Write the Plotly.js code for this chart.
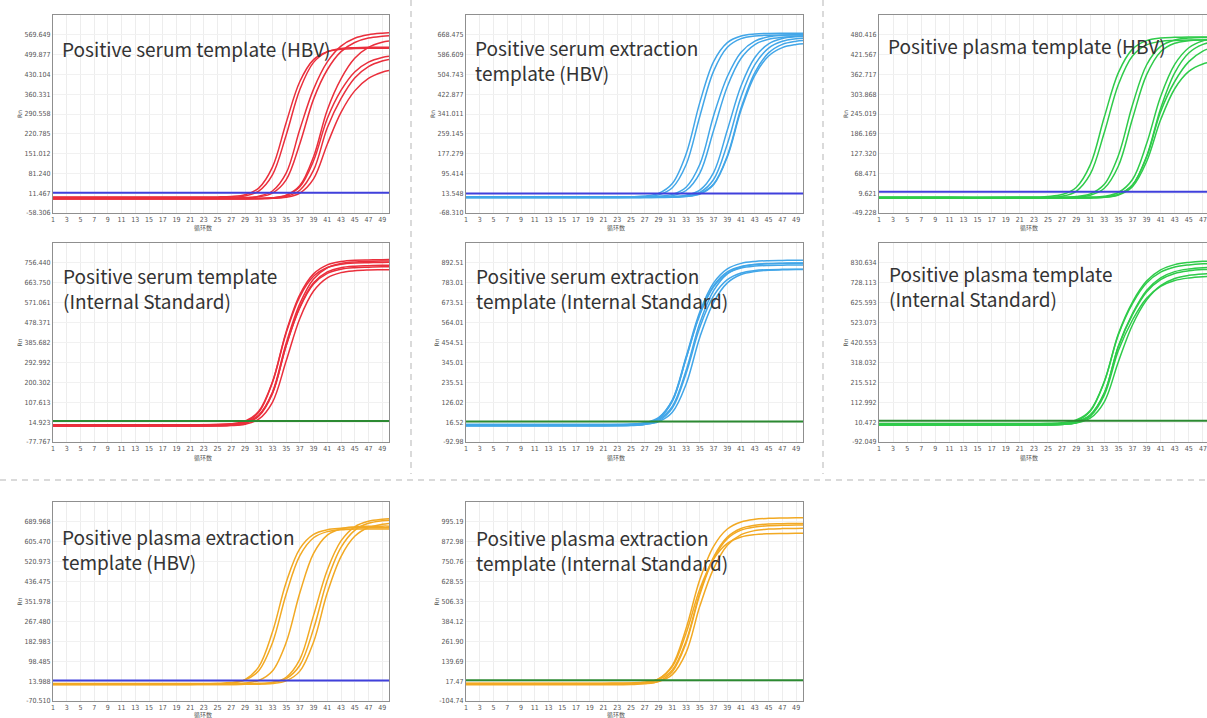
<!DOCTYPE html>
<html><head><meta charset="utf-8">
<script src="https://cdn.plot.ly/plotly-3.0.1.min.js"></script>
<style>html,body{margin:0;padding:0;overflow:hidden;background:#fff;width:1207px;height:718px}#chart{width:1230px;height:718px}</style>
</head><body><div id="chart"></div><script>
// ---------- shared data ----------
const cycles = [1, 11, 21, 25, 27, 29, 31, 33, 35, 37, 39, 41, 43, 45, 47, 49, 50];
const thresholdCycles = [1, 50];
const xTickVals = [1,3,5,7,9,11,13,15,17,19,21,23,25,27,29,31,33,35,37,39,41,43,45,47,49];
const xTickText = ['1','3','5','7','9','11','13','15','17','19','21','23','25','27','29','31','33','35','37','39','41','43','45','47','49'];
const xAxisTitle = '循环数';
const yAxisTitle = 'Rn';

// ---------- Panel 1: Positive serum template (HBV) ----------
const serumHbvTitle = 'Positive serum template (HBV)';
const serumHbvTicks = [-58.306, 11.467, 81.240, 151.012, 220.785, 290.558, 360.331, 430.104, 499.877, 569.649];
const serumHbvTickText = ['-58.306','11.467','81.240','151.012','220.785','290.558','360.331','430.104','499.877','569.649'];
const serumHbvRange = [-58.306, 639.424];
const serumHbvThreshold = [13, 13];
const serumHbvCurves = [
  [-2,-2,-2,-1.5,0.1,6.2,29.4,103.3,260,405.1,482.2,510,518.5,521,522,522,522],
  [-4,-4,-4,-3.6,-2.5,1.9,18.8,76,216,377.1,472.5,509.6,521.2,524.4,526,526,526],
  [-6,-6,-6,-6,-5.6,-4.4,0.6,19.2,82.3,236.8,378.3,474.3,529.9,557.4,569.6,575.2,576.7],
  [-6,-6,-6,-6,-6,-4.9,-1.5,11.8,58.4,186.1,343,446.5,510.4,542.6,558.1,564.4,566.1],
  [-8,-8,-8,-8,-8,-8,-7.2,-4.8,4.4,38.3,140,305,414.6,486.9,525.4,543.4,548],
  [-8,-8,-8,-8,-8,-8,-7.5,-6,-0.2,22,92.5,242,344.5,417.5,457.5,477,482.5],
  [-8,-8,-8,-8,-8,-8,-7.7,-6.7,-2.8,11.9,61.9,184.1,296.2,372.1,416.1,437.9,443.9],
  [-8,-8,-8,-8,-8,-8,-7.2,-5.1,3.2,33.8,125.6,274.5,373.5,438.8,473.4,489.8,493.8]
];

// ---------- Panel 2: Positive serum extraction template (HBV) ----------
const serumExtHbvTitle = 'Positive serum extraction<br>template (HBV)';
const serumExtHbvTicks = [-68.318, 13.548, 95.414, 177.279, 259.145, 341.011, 422.877, 504.743, 586.609, 668.475];
const serumExtHbvTickText = ['-68.310','13.548','95.414','177.279','259.145','341.011','422.877','504.743','586.609','668.475'];
const serumExtHbvRange = [-68.318, 750.342];
const serumExtHbvThreshold = [12, 12];
const serumExtHbvCurves = [
  [-2,-2,-2,-1,1.9,12.9,53.5,175.4,389,557.9,636.4,663.5,671.6,674.3,675,675,675],
  [-4,-4,-4,-3.3,-1.3,6.6,36.3,131.1,332,518.1,616.9,652.5,663.5,666.7,668,668,668],
  [-2,-2,-2,-2,-1.3,0.7,8.6,38.3,133.1,334,496,596.8,642.4,660.2,666.5,668.7,669.3],
  [-4,-4,-4,-4,-3.5,-2.1,3.5,24.7,96.7,272.8,454.9,571.6,628.3,650.3,658.3,661.3,661.7],
  [-2,-2,-2,-2,-2,-1.5,-0.1,5.5,26.7,98.9,275.2,457.6,574.5,631.3,653.3,661.3,663.3],
  [-4,-4,-4,-4,-4,-3.7,-2.7,1.2,16.5,70.1,217.1,412.4,544.8,613.6,641.8,652.2,654.6],
  [-2,-2,-2,-2,-2,-1.8,-1.1,1.7,12.3,51.5,168.8,366.4,512.4,593.9,629.1,642.2,645.4],
  [-4,-4,-4,-4,-4,-3.8,-3.1,-0.4,10.1,48.5,163.7,357.6,501,581,615.5,628.3,631.5]
];

// ---------- Panel 3: Positive plasma template (HBV) ----------
const plasmaHbvTitle = 'Positive plasma template (HBV)';
const plasmaHbvTicks = [-49.228, 9.621, 68.471, 127.320, 186.169, 245.019, 303.868, 362.717, 421.567, 480.416];
const plasmaHbvTickText = ['-49.228','9.621','68.471','127.320','186.169','245.019','303.868','362.717','421.567','480.416'];
const plasmaHbvRange = [-49.228, 539.265];
const plasmaHbvThreshold = [14, 14];
const plasmaHbvCurves = [
  [-2,-2,-2,-0.1,5.5,26.6,93.7,236,367.9,437.8,463.1,470.8,473,474,474,474,474],
  [-5,-5,-5,-3.7,0.3,15.2,66,190.1,332.9,417.5,450.4,460.8,463.6,465,465,465,465],
  [-3,-3,-3,-2.9,-2.3,-0.3,7.5,36,121.7,271.9,390.7,445.9,464.9,470.6,472.5,473,473],
  [-4,-4,-4,-4,-3.5,-2.1,3.4,24.2,90.5,231,361.2,430.3,455.2,462.9,465.1,466,466],
  [-3,-3,-3,-3,-3,-2.8,-2,0.8,11.8,50.4,156.3,297,392.4,442,462.3,469.9,471.5],
  [-5,-5,-5,-5,-5,-4.9,-4.3,-2.3,5.4,33.7,118.7,261.7,367.4,426.4,451.9,461.3,463.7],
  [-4,-4,-4,-4,-4,-3.9,-3.4,-1.4,6.2,33.9,117,252,341.6,400.7,432.1,446.9,450.6],
  [-5,-5,-5,-5,-5,-4.9,-4.4,-2.7,4.1,28.8,102.9,227.8,320.1,371.6,393.8,402,404.1]
];

// ---------- Panel 4: Positive serum template (Internal Standard) ----------
const serumIsTitle = 'Positive serum template<br>(Internal Standard)';
const serumIsTicks = [-77.767, 14.923, 107.613, 200.302, 292.992, 385.682, 478.371, 571.061, 663.750, 756.440];
const serumIsTickText = ['-77.767','14.923','107.613','200.302','292.992','385.682','478.371','571.061','663.750','756.440'];
const serumIsRange = [-77.767, 849.13];
const serumIsThreshold = [20, 20];
const serumIsCurves = [
  [-3,-3,-3,-1.9,1.4,14.1,60.6,200.1,434.9,608.5,705.4,747.2,762.7,768.9,770.5,771.2,772],
  [3,3,3,4.1,7.3,19.6,65,201.1,430.1,599.5,694,734.8,750,756,757.5,758.2,759],
  [-3,-3,-3,-2.3,0,8.7,41.9,147.3,371,551.3,663.5,714.3,734.1,741.1,743.5,745,745],
  [3,3,3,3.7,5.9,14.5,47.1,150.7,370.5,547.6,657.9,707.9,727.3,734.2,736.5,738,738],
  [-3,-3,-3,-2.5,-1,5.2,28.3,106.9,299.1,497.9,625.3,687.1,711.2,719.9,723.2,724.3,725],
  [0,0,0,0.8,3.1,12,45.9,153.8,382.5,566.9,681.6,733.6,753.8,761,763.5,765,765]
];

// ---------- Panel 5: Positive serum extraction template (Internal Standard) ----------
const serumExtIsTitle = 'Positive serum extraction<br>template (Internal Standard)';
const serumExtIsTicks = [-92.98, 16.52, 126.02, 235.51, 345.01, 454.51, 564.01, 673.51, 783.01, 892.51];
const serumExtIsTickText = ['-92.98','16.52','126.02','235.51','345.01','454.51','564.01','673.51','783.01','892.51'];
const serumExtIsRange = [-92.98, 1002.01];
const serumExtIsThreshold = [20, 20];
const serumExtIsCurves = [
  [0,0,0,2.5,10.2,39,137,376.4,624,782.7,859.8,889.8,900.7,904.7,906.1,907,907],
  [-5,-5,-5,-2.5,5,33.5,130.1,366.4,610.8,767.4,843.5,873,883.7,887.8,889.1,890,890],
  [3,3,3,4.8,10,30.6,102.6,299.9,562.2,740,832.4,870.2,884.3,889.3,891.1,892,892],
  [-3,-3,-3,-1.3,3.8,23.7,93.4,284.6,538.6,710.8,800.3,836.9,850.5,855.4,857.1,858,858],
  [0,0,0,1.2,4.9,18.8,70.2,224.3,483.6,675.4,782.4,828.6,845.7,852.6,854.3,856,856],
  [3,3,3,5.5,12.8,40.8,135.6,367.4,607.1,760.7,835.3,864.3,874.9,878.8,880.1,881,881]
];

// ---------- Panel 6: Positive plasma template (Internal Standard) ----------
const plasmaIsTitle = 'Positive plasma template<br>(Internal Standard)';
const plasmaIsTicks = [-92.049, 10.472, 112.992, 215.512, 318.032, 420.553, 523.073, 625.593, 728.113, 830.634];
const plasmaIsTickText = ['-92.049','10.472','112.992','215.512','318.032','420.553','523.073','625.593','728.113','830.634'];
const plasmaIsRange = [-92.049, 933.154];
const plasmaIsThreshold = [18, 18];
const plasmaIsCurves = [
  [-3,-3,-3,-1.8,1.8,15.6,66.3,218.4,465.1,629.1,737.2,794.7,821.7,833.1,838.6,840.3,841.2],
  [3,3,3,4.2,7.7,21.2,70.7,219.4,460.6,620.8,726.6,782.7,809.2,820.3,825.7,827.3,828.2],
  [-5,-5,-5,-4.2,-1.7,7.8,43.9,158.8,402.5,569.6,688.6,753.8,785.6,799.4,805.9,808.4,809.2],
  [0,0,0,0.8,3.2,12.6,48,160.8,400,564,680.8,744.8,776,789.6,796,798.4,799.2],
  [-3,-3,-3,-2.5,-0.8,5.8,30.6,115.1,321.5,510.8,639,713.3,750.1,766.5,773.9,776.7,777.4],
  [-5,-5,-5,-4.2,-1.9,7.1,41.1,149.4,379,536.4,648.6,710,740,753,759.2,761.5,762.2]
];

// ---------- Panel 7: Positive plasma extraction template (HBV) ----------
const plasmaExtHbvTitle = 'Positive plasma extraction<br>template (HBV)';
const plasmaExtHbvTicks = [-70.510, 13.988, 98.485, 182.983, 267.480, 351.978, 436.475, 520.973, 605.470, 689.968];
const plasmaExtHbvTickText = ['-70.510','13.988','98.485','182.983','267.480','351.978','436.475','520.973','605.470','689.968'];
const plasmaExtHbvRange = [-70.510, 774.466];
const plasmaExtHbvThreshold = [17, 17];
const plasmaExtHbvCurves = [
  [0,0,0,1.3,5.3,20.6,74.5,222.1,432.9,576.6,637.1,656.7,662.6,665,665,665,665],
  [4,4,4,4.9,7.7,18.4,57.8,175.9,382.8,546.5,622.6,648.8,656.7,659.3,660,660,660],
  [2,2,2,2.2,2.9,5.8,16.7,56.9,177.5,388.9,556.1,633.8,660.6,668.7,671.3,672,672],
  [0,0,0,0,0,0.5,2,7.9,30.4,106.6,293,485.7,609.3,669.3,692.6,701.1,703.2],
  [3,3,3,3,3,3.3,4.4,8.5,24.6,81.2,236.1,442,581.6,654.2,683.9,694.9,697.4],
  [0,0,0,0,0,0.2,1,3.9,15.1,56.4,180.3,388.7,542.8,628.8,666,679.7,683.2]
];

// ---------- Panel 8: Positive plasma extraction template (Internal Standard) ----------
const plasmaExtIsTitle = 'Positive plasma extraction<br>template (Internal Standard)';
const plasmaExtIsTicks = [-104.74, 17.47, 139.69, 261.90, 384.12, 506.33, 628.55, 750.76, 872.98, 995.19];
const plasmaExtIsTickText = ['-104.74','17.47','139.69','261.90','384.12','506.33','628.55','750.76','872.98','995.19'];
const plasmaExtIsRange = [-104.74, 1117.41];
const plasmaExtIsThreshold = [22, 22];
const plasmaExtIsCurves = [
  [0,0,0,2,8.1,31.6,114.2,340.7,641.6,845.6,951.7,995,1011.1,1016.9,1019,1020,1020],
  [5,5,5,6.4,10.6,26.6,85.4,262,559.3,779,901.6,954.6,974.2,982.1,984,986,986],
  [-5,-5,-5,-3.6,0.6,16.6,75.4,252,549.3,769,891.6,944.6,964.2,972.1,974,976,976],
  [0,0,0,1,3.8,15,57.4,192.2,478,708.4,851.8,916.8,942,951,954.1,955,956],
  [3,3,3,4.8,10.3,31.6,106.3,311,582.9,767.3,863.2,902.4,917,922.2,924.1,925,925]
];

// ---------- styles / layout ----------
const W = 1230, H = 718;
const RED = '#ea2f3c', SKY = '#42a6e8', GREEN = '#2fcb4a', ORANGE = '#f2a923';
const THR_BLUE = '#4040dc', THR_GREEN = '#2c8a32';
const COLS = [[53, 389], [466, 803], [879, 1224]];
const ROWS = [[15, 213], [243, 442], [502, 701]];
const XTITLE_Y = [228, 457, 714];

const panels = [
  {title: serumHbvTitle, ticks: serumHbvTicks, text: serumHbvTickText, range: serumHbvRange, thr: serumHbvThreshold, curves: serumHbvCurves, color: RED, thrColor: THR_BLUE, col: 0, row: 0, lab: [60, 33]},
  {title: serumExtHbvTitle, ticks: serumExtHbvTicks, text: serumExtHbvTickText, range: serumExtHbvRange, thr: serumExtHbvThreshold, curves: serumExtHbvCurves, color: SKY, thrColor: THR_BLUE, col: 1, row: 0, lab: [473, 32]},
  {title: plasmaHbvTitle, ticks: plasmaHbvTicks, text: plasmaHbvTickText, range: plasmaHbvRange, thr: plasmaHbvThreshold, curves: plasmaHbvCurves, color: GREEN, thrColor: THR_BLUE, col: 2, row: 0, lab: [886, 30]},
  {title: serumIsTitle, ticks: serumIsTicks, text: serumIsTickText, range: serumIsRange, thr: serumIsThreshold, curves: serumIsCurves, color: RED, thrColor: THR_GREEN, col: 0, row: 1, lab: [61, 260]},
  {title: serumExtIsTitle, ticks: serumExtIsTicks, text: serumExtIsTickText, range: serumExtIsRange, thr: serumExtIsThreshold, curves: serumExtIsCurves, color: SKY, thrColor: THR_GREEN, col: 1, row: 1, lab: [474, 260]},
  {title: plasmaIsTitle, ticks: plasmaIsTicks, text: plasmaIsTickText, range: plasmaIsRange, thr: plasmaIsThreshold, curves: plasmaIsCurves, color: GREEN, thrColor: THR_GREEN, col: 2, row: 1, lab: [887, 258]},
  {title: plasmaExtHbvTitle, ticks: plasmaExtHbvTicks, text: plasmaExtHbvTickText, range: plasmaExtHbvRange, thr: plasmaExtHbvThreshold, curves: plasmaExtHbvCurves, color: ORANGE, thrColor: THR_BLUE, col: 0, row: 2, lab: [60, 521]},
  {title: plasmaExtIsTitle, ticks: plasmaExtIsTicks, text: plasmaExtIsTickText, range: plasmaExtIsRange, thr: plasmaExtIsThreshold, curves: plasmaExtIsCurves, color: ORANGE, thrColor: THR_GREEN, col: 1, row: 2, lab: [474, 522]}
];

const tickFont = {family: 'Liberation Sans Narrow, DejaVu Sans Condensed, sans-serif', size: 7, color: '#555'};
const traces = [];
const layout = {
  width: W, height: H, margin: {l: 0, r: 0, t: 0, b: 0},
  paper_bgcolor: '#fff', plot_bgcolor: '#fff', showlegend: false,
  annotations: [], shapes: []
};

panels.forEach((p, i) => {
  const n = i + 1;
  const xa = 'xaxis' + (n === 1 ? '' : n), ya = 'yaxis' + (n === 1 ? '' : n);
  const xr = 'x' + (n === 1 ? '' : n), yr = 'y' + (n === 1 ? '' : n);
  const [x0, x1] = COLS[p.col], [y0, y1] = ROWS[p.row];
  // the third column runs past the window edge: stop its labels at 47 so none is clipped
  const nTicks = p.col === 2 ? xTickVals.length - 1 : xTickVals.length;
  layout[xa] = {
    domain: [x0 / W, x1 / W], anchor: yr, range: [1, 50],
    tickmode: 'array', tickvals: xTickVals.slice(0, nTicks), ticktext: xTickText.slice(0, nTicks), tickfont: tickFont,
    ticks: '', showgrid: true, gridcolor: '#ededed', gridwidth: 1, zeroline: false,
    showline: true, mirror: true, linecolor: '#8f8f8f', linewidth: 1
  };
  layout[ya] = {
    domain: [1 - y1 / H, 1 - y0 / H], anchor: xr, range: p.range,
    tickmode: 'array', tickvals: p.ticks, ticktext: p.text, tickfont: tickFont,
    ticks: '', showgrid: true, gridcolor: '#f1f1f1', gridwidth: 1, zeroline: false,
    showline: true, mirror: true, linecolor: '#8f8f8f', linewidth: 1,
    title: {text: yAxisTitle, font: {family: 'DejaVu Sans', size: 6, color: '#555'}}
  };
  p.curves.forEach(c => traces.push({
    x: cycles, y: c, xaxis: xr, yaxis: yr, mode: 'lines', hoverinfo: 'skip',
    line: {color: p.color, width: 1.5, shape: 'spline', smoothing: 1}
  }));
  traces.push({
    x: thresholdCycles, y: p.thr, xaxis: xr, yaxis: yr, mode: 'lines', hoverinfo: 'skip',
    line: {color: p.thrColor, width: 2}
  });
  layout.annotations.push({
    xref: 'paper', yref: 'paper', x: p.lab[0] / W, y: 1 - p.lab[1] / H,
    xanchor: 'left', yanchor: 'top', align: 'left', showarrow: false,
    text: p.title, font: {family: 'Noto Sans CJK SC', size: 19, color: '#333'}
  });
  // x-axis title, sitting under the tick labels as in the reference
  layout.annotations.push({
    xref: 'paper', yref: 'paper', x: (x0 + 150) / W, y: 1 - XTITLE_Y[p.row] / H,
    xanchor: 'center', yanchor: 'middle', showarrow: false, borderpad: 0,
    text: xAxisTitle, font: {family: 'Noto Sans CJK SC', size: 6, color: '#555'}
  });
});

// dashed separators
const sep = {color: '#b5b5b5', width: 1, dash: '6px,5px'};
layout.shapes.push({type: 'line', xref: 'paper', yref: 'paper', x0: 411 / W, x1: 411 / W, y0: 1, y1: 1 - 474 / H, line: sep});
layout.shapes.push({type: 'line', xref: 'paper', yref: 'paper', x0: 823 / W, x1: 823 / W, y0: 1, y1: 1 - 474 / H, line: sep});
layout.shapes.push({type: 'line', xref: 'paper', yref: 'paper', x0: 0, x1: 1, y0: 1 - 480 / H, y1: 1 - 480 / H, line: sep});

Plotly.newPlot('chart', traces, layout, {staticPlot: true, displayModeBar: false});
</script></body></html>
